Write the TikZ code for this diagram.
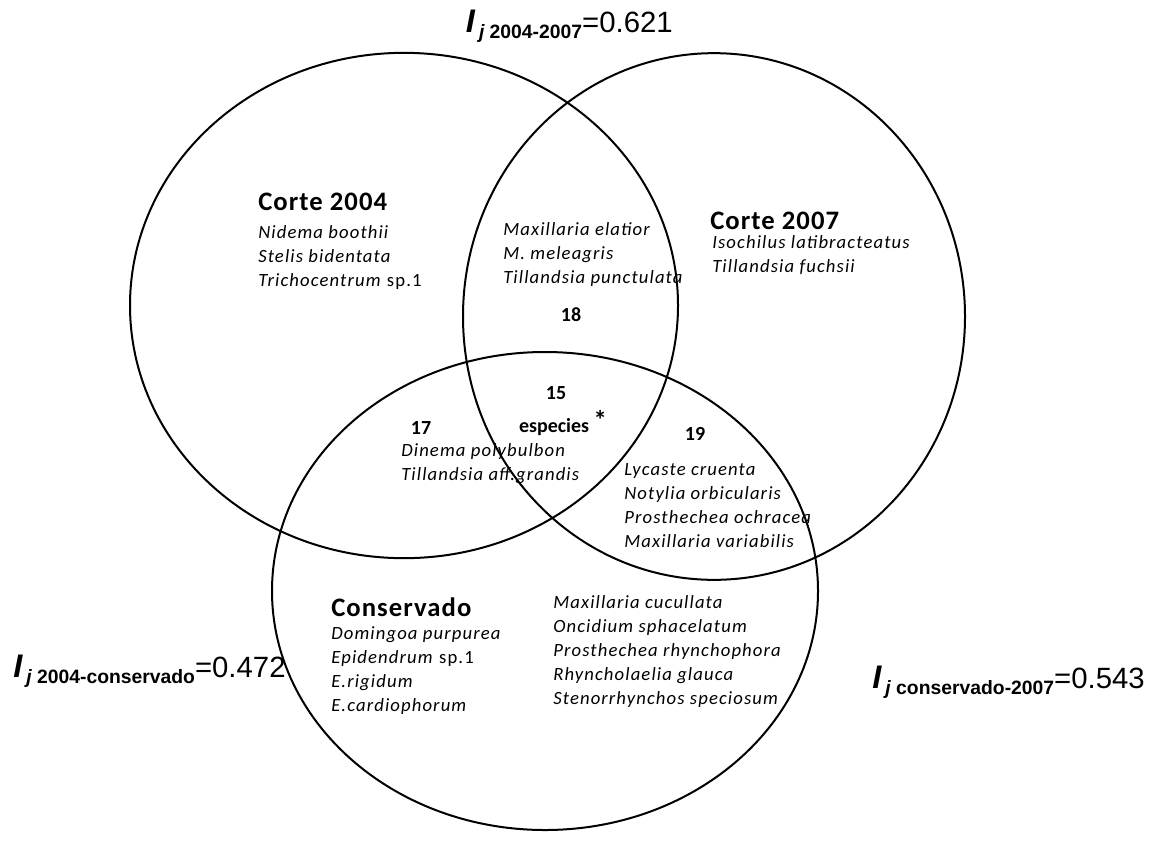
\documentclass[tikz,border=0pt]{standalone}
\usepackage{fontspec}
\setmainfont{Carlito}
\newfontfamily\spfont[LetterSpace=6]{Carlito}
\newfontfamily\grpfont[LetterSpace=4]{Carlito}
\newfontfamily\arialf{Liberation Sans}
\usetikzlibrary{shapes.geometric}
% indice de Jaccard
\newcommand{\jacc}[2]{{\arialf\fontsize{24.5}{24}\selectfont\bfseries\itshape I}\kern3pt\raisebox{-4.5pt}{\arialf\fontsize{14.5}{16}\selectfont\bfseries{\itshape j} #1}{\arialf\fontsize{22}{24}\selectfont=#2}}

\begin{document}
\begin{tikzpicture}[x=0.75pt,y=-0.75pt,
	every node/.style={inner sep=0pt},
	venn/.style={draw, ellipse, line width=1.5pt},
	grp/.style={anchor=base west, font=\grpfont\fontsize{20}{24}\selectfont\bfseries},
	sp/.style={anchor=base west, align=left, font=\spfont\fontsize{14}{18}\selectfont\itshape},
	num/.style={font=\fontsize{15}{18}\selectfont\bfseries}]
	\useasboundingbox (0,0) rectangle (1152,843);
	% conjuntos
	\node[venn, minimum width=411pt, minimum height=379pt] (c04) at (404,305.5) {};
	\node[venn, minimum width=376.5pt, minimum height=395pt] (c07) at (714,316.5) {};
	\node[venn, minimum width=409.5pt, minimum height=358.5pt] (cons) at (545,591) {};
	% indices
	\node[anchor=base east] (i0407) at (673,32) {\jacc{2004-2007}{0.621}};
	\node[anchor=base west] (i04c) at (13,677) {\jacc{2004-conservado}{0.472}};
	\node[anchor=base east] (ic07) at (1145,688) {\jacc{conservado-2007}{0.543}};
	% Corte 2004 (base = ultima linea)
	\node[grp] (t04) at (258,210) {Corte 2004};
	\node[sp] (s04) at (258,286) {Nidema boothii\\ Stelis bidentata\\ Trichocentrum \textup{sp.1}};
	\node[sp] (s0407) at (503,283) {Maxillaria elatior\\ M. meleagris\\ Tillandsia punctulata};
	\node[num] (n18) at (571,315) {18};
	% Corte 2007
	\node[grp] (t07) at (710,229) {Corte 2007};
	\node[sp] (s07) at (712,272) {Isochilus latibracteatus\\ Tillandsia fuchsii};
	% centro
	\node[num] (n15) at (556,393) {15};
	\node[num] (nesp) at (563,423) {especies \raisebox{2pt}{\fontsize{20}{20}\selectfont*}};
	\node[num] (n17) at (421,428) {17};
	\node[num] (n19) at (695,434) {19};
	\node[sp] (s04c) at (401,480) {Dinema polybulbon\\ Tillandsia aff.grandis};
	\node[sp] (sc07) at (624,547) {Lycaste cruenta\\ Notylia orbicularis\\ Prosthechea ochracea\\ Maxillaria variabilis};
	% Conservado
	\node[grp] (tc) at (331,616) {Conservado};
	\node[sp] (sc) at (331,711) {Domingoa purpurea\\ Epidendrum \textup{sp.1}\\ E.rigidum\\ E.cardiophorum};
	\node[sp] (sc2) at (553,704) {Maxillaria cucullata\\ Oncidium sphacelatum\\ Prosthechea rhynchophora\\ Rhyncholaelia glauca\\ Stenorrhynchos speciosum};
\end{tikzpicture}
\end{document}
